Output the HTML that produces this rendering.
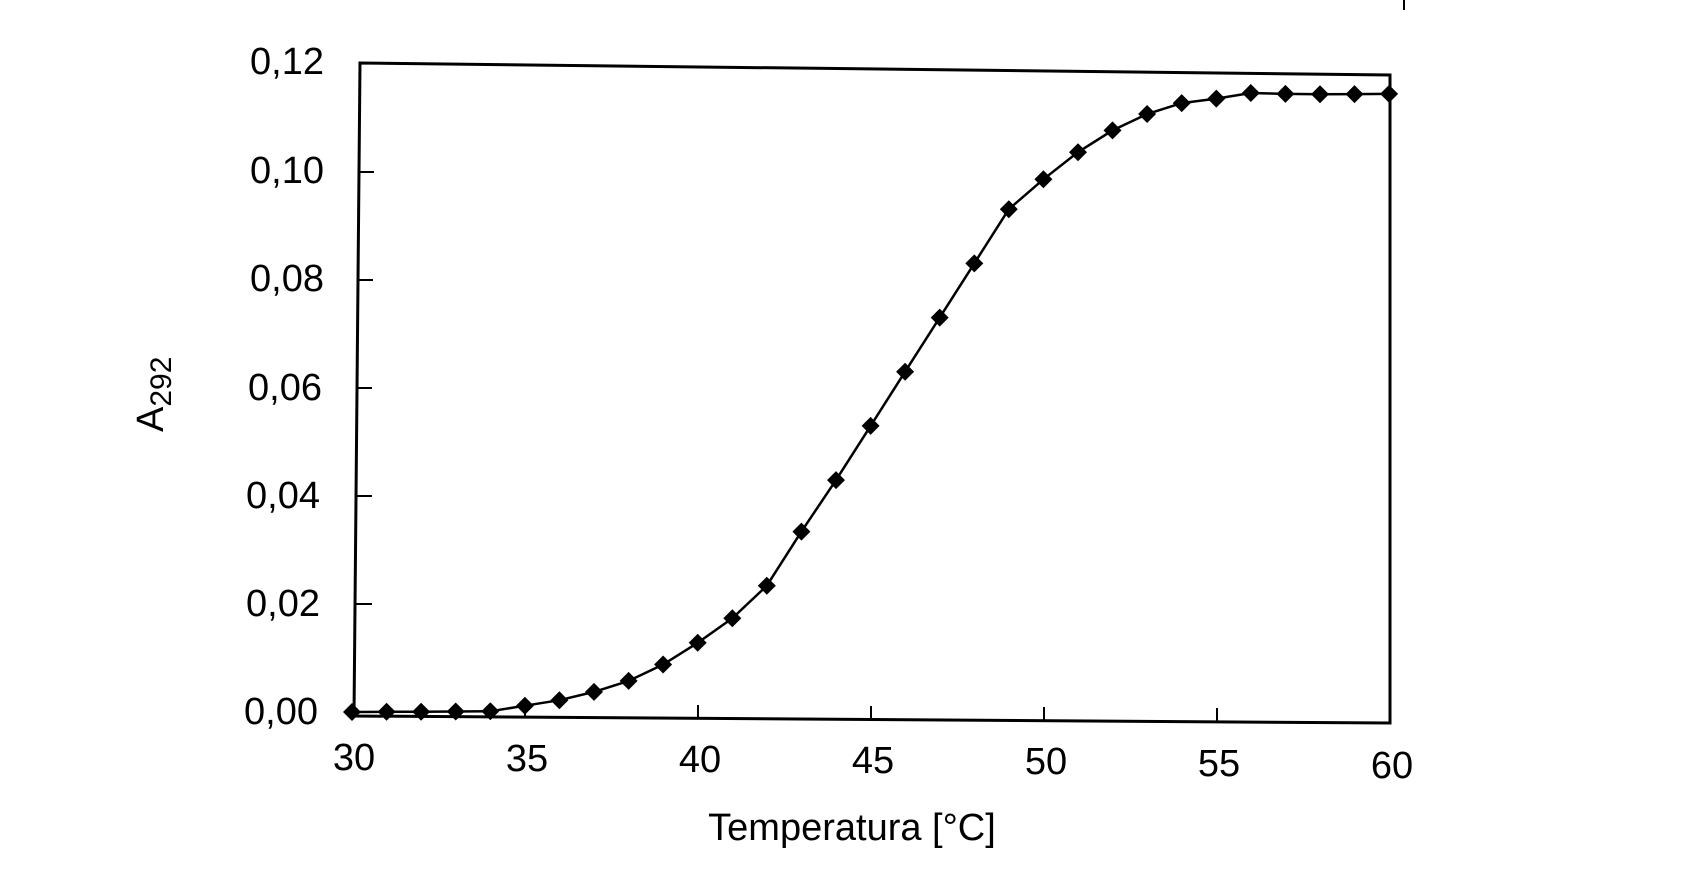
<!DOCTYPE html>
<html><head><meta charset="utf-8"><style>body{margin:0;background:#fff}svg{display:block}</style></head><body>
<svg width="1688" height="877" viewBox="0 0 1688 877" xmlns="http://www.w3.org/2000/svg" font-family="Liberation Sans, sans-serif">
<rect width="1688" height="877" fill="#fff"/>
<line x1="1404" y1="0" x2="1404" y2="10" stroke="#000" stroke-width="2"/>
<polygon points="360,63 1390,75 1390,723 354,716" fill="none" stroke="#000" stroke-width="3"/>
<g stroke="#000" stroke-width="2">
<line x1="356" y1="604" x2="372" y2="604"/><line x1="356" y1="496" x2="372" y2="496"/><line x1="356" y1="388" x2="372" y2="388"/><line x1="357" y1="280" x2="373" y2="280"/><line x1="358" y1="172" x2="374" y2="172"/>
<line x1="525" y1="718" x2="525" y2="704"/><line x1="698" y1="719" x2="698" y2="705"/><line x1="871" y1="720" x2="871" y2="706"/><line x1="1044" y1="721" x2="1044" y2="707"/><line x1="1217" y1="722" x2="1217" y2="708"/>
</g>
<g font-size="38" text-anchor="end" fill="#000">
<text x="324" y="74">0,12</text><text x="324" y="183">0,10</text><text x="324" y="291">0,08</text><text x="322" y="400">0,06</text><text x="320" y="508">0,04</text><text x="320" y="616">0,02</text><text x="318" y="724">0,00</text>
</g>
<g font-size="38" text-anchor="middle" fill="#000">
<text x="354" y="770">30</text><text x="527" y="771">35</text><text x="700" y="772">40</text><text x="873" y="773">45</text><text x="1046" y="774">50</text><text x="1219" y="776">55</text><text x="1392" y="778">60</text>
</g>
<text x="852" y="840" font-size="38" text-anchor="middle">Temperatura [°C]</text>
<text transform="translate(163,432) rotate(-90)" font-size="38">A<tspan font-size="30" dy="8">292</tspan></text>
<path fill="none" stroke="#000" stroke-width="2.5" d="M352,712 L386.6,711.8 L421.1,711.7 L455.7,711.5 L490.3,711.3 L524.9,705.7 L559.4,700.2 L594,691.9 L628.6,680.9 L663.1,664.5 L697.7,642.8 L732.3,618.3 L766.8,585.7 L801.4,531.6 L836,480.1 L870.6,425.9 L905.1,371.7 L939.7,317.6 L974.3,263.4 L1008.8,209.2 L1043.4,179.3 L1078,152.2 L1112.5,130.4 L1147.1,114 L1181.7,103.1 L1216.3,98.6 L1250.8,93 L1285.4,93.9 L1320,94.3 L1354.5,94.1 L1389.1,93.9"/>
<path fill="#000" d="M352,703 l9,9 -9,9 -9,-9z M386.6,702.8 l9,9 -9,9 -9,-9z M421.1,702.7 l9,9 -9,9 -9,-9z M455.7,702.5 l9,9 -9,9 -9,-9z M490.3,702.3 l9,9 -9,9 -9,-9z M524.9,696.7 l9,9 -9,9 -9,-9z M559.4,691.2 l9,9 -9,9 -9,-9z M594,682.9 l9,9 -9,9 -9,-9z M628.6,671.9 l9,9 -9,9 -9,-9z M663.1,655.5 l9,9 -9,9 -9,-9z M697.7,633.8 l9,9 -9,9 -9,-9z M732.3,609.3 l9,9 -9,9 -9,-9z M766.8,576.7 l9,9 -9,9 -9,-9z M801.4,522.6 l9,9 -9,9 -9,-9z M836,471.1 l9,9 -9,9 -9,-9z M870.6,416.9 l9,9 -9,9 -9,-9z M905.1,362.7 l9,9 -9,9 -9,-9z M939.7,308.6 l9,9 -9,9 -9,-9z M974.3,254.4 l9,9 -9,9 -9,-9z M1008.8,200.2 l9,9 -9,9 -9,-9z M1043.4,170.3 l9,9 -9,9 -9,-9z M1078,143.2 l9,9 -9,9 -9,-9z M1112.5,121.4 l9,9 -9,9 -9,-9z M1147.1,105 l9,9 -9,9 -9,-9z M1181.7,94.1 l9,9 -9,9 -9,-9z M1216.3,89.6 l9,9 -9,9 -9,-9z M1250.8,84 l9,9 -9,9 -9,-9z M1285.4,84.9 l9,9 -9,9 -9,-9z M1320,85.3 l9,9 -9,9 -9,-9z M1354.5,85.1 l9,9 -9,9 -9,-9z M1389.1,84.9 l9,9 -9,9 -9,-9z"/>
</svg>
</body></html>
